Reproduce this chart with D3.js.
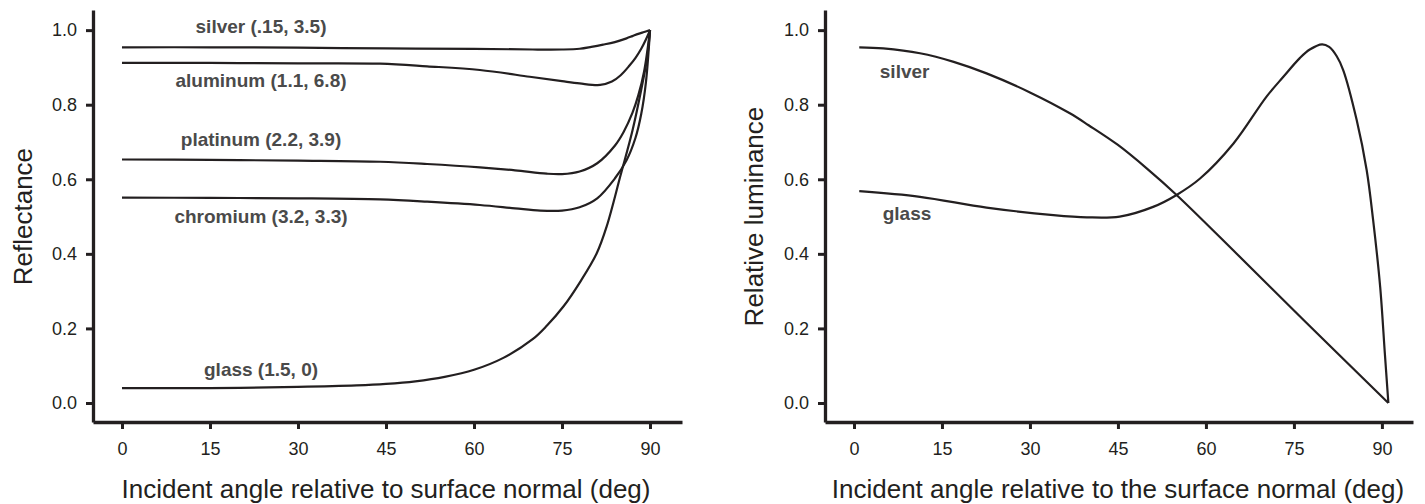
<!DOCTYPE html>
<html>
<head>
<meta charset="utf-8">
<script src="https://cdn.jsdelivr.net/npm/d3@7"></script>
<style>
  body { margin: 0; background: #fff; }
  text { font-family: "Liberation Sans", Arial, Helvetica, sans-serif; fill: #231f20; }
  .axis-title { font-size: 26px; }
  .curve-label { font-size: 19px; font-weight: bold; fill: #4a4a4a; }
</style>
</head>
<body>
<svg id="chart" width="1425" height="504"></svg>
<script>
// ---- data ----
// left panel: reflectance vs incident angle
var angleSilver = [0, 15, 30, 45, 60, 70, 75, 78, 80, 82, 84, 86, 87, 88, 89, 90];
var reflSilver  = [0.954, 0.954, 0.953, 0.951, 0.950, 0.948, 0.948, 0.950, 0.955, 0.961, 0.968, 0.978, 0.984, 0.990, 0.995, 1.0];

var angleAluminum = [0, 15, 30, 44, 52, 61, 69.5, 75, 78, 81.5, 83.5, 85, 86.5, 87.5, 88.5, 89.3, 90];
var reflAluminum  = [0.912, 0.912, 0.911, 0.910, 0.903, 0.893, 0.875, 0.863, 0.857, 0.853, 0.862, 0.879, 0.905, 0.925, 0.950, 0.975, 1.0];

var anglePlatinum = [0, 15, 30, 44, 52, 61, 67, 72.4, 75, 78, 81, 84, 85.5, 87, 88, 89, 90];
var reflPlatinum  = [0.653, 0.652, 0.650, 0.647, 0.641, 0.632, 0.624, 0.615, 0.614, 0.621, 0.643, 0.690, 0.727, 0.778, 0.825, 0.890, 1.0];

var angleChromium = [0, 15, 30, 44, 52, 61, 67, 71.3, 75, 78, 81, 84, 86, 87.5, 88.5, 89.3, 90];
var reflChromium  = [0.551, 0.550, 0.549, 0.546, 0.540, 0.531, 0.522, 0.516, 0.516, 0.525, 0.549, 0.602, 0.651, 0.710, 0.775, 0.860, 1.0];

var angleGlass = [0, 15, 30, 40, 45, 50, 55, 60, 65, 70, 72.4, 75.3, 78.1, 80.9, 82.6, 85, 87, 88.5, 89.5, 90];
var reflGlass  = [0.040, 0.040, 0.043, 0.047, 0.051, 0.058, 0.070, 0.089, 0.121, 0.171, 0.207, 0.260, 0.325, 0.401, 0.473, 0.612, 0.730, 0.840, 0.925, 1.0];

var leftLabels = ["silver (.15, 3.5)", "aluminum (1.1, 6.8)", "platinum (2.2, 3.9)", "chromium (3.2, 3.3)", "glass (1.5, 0)"];

// right panel: relative luminance vs incident angle
var angleLumSilver = [0.9, 5, 11.25, 17, 22.6, 30, 36.8, 40, 45, 50, 55, 65.2, 76.6, 91.1];
var lumSilver      = [0.954, 0.951, 0.938, 0.915, 0.884, 0.833, 0.777, 0.745, 0.692, 0.628, 0.558, 0.401, 0.223, 0.0];

var angleLumGlass = [0.9, 11.25, 22.6, 34, 39.7, 45.3, 51, 55, 59, 64.7, 70.3, 73.2, 76, 77.7, 79.8, 81, 82.3, 83.4, 85.7, 87.4, 88.5, 89.7, 90.5, 91.1];
var lumGlass      = [0.568, 0.553, 0.524, 0.504, 0.498, 0.500, 0.526, 0.558, 0.602, 0.696, 0.821, 0.875, 0.925, 0.948, 0.962, 0.955, 0.930, 0.893, 0.759, 0.625, 0.491, 0.312, 0.133, 0.0];

var rightLabels = ["silver", "glass"];

var xTicks = [0, 15, 30, 45, 60, 75, 90];
var yTicks = [0.0, 0.2, 0.4, 0.6, 0.8, 1.0];

// ---- drawing ----
var svg = d3.select("#chart");
var ink = "#231f20";

function drawPanel(opts) {
  var x = d3.scaleLinear().domain([-4.94, opts.xMax]).range([opts.left, opts.right]);
  var y = d3.scaleLinear().domain([-0.051, 1.054]).range([422, 10]);

  var g = svg.append("g");

  var xAxis = g.append("g")
    .attr("transform", "translate(0,422)")
    .call(d3.axisBottom(x).tickValues(xTicks).tickSize(7).tickSizeOuter(0).tickPadding(13));
  var yAxis = g.append("g")
    .attr("transform", `translate(${opts.left},0)`)
    .call(d3.axisLeft(y).tickValues(yTicks).tickFormat(d3.format(".1f")).tickSize(7).tickSizeOuter(0).tickPadding(9));

  [xAxis, yAxis].forEach(function(a) {
    a.select(".domain").attr("stroke", ink).attr("stroke-width", 3.3);
    a.selectAll(".tick line").attr("stroke", ink).attr("stroke-width", 3);
    a.selectAll(".tick text").attr("fill", ink).style("font-size", "18px");
    a.attr("font-family", null).attr("font-size", null);
  });

  // smooth curve through the read points
  var line = d3.line()
    .x(d => x(d[0]))
    .y(d => y(d[1]))
    .curve(d3.curveCatmullRom.alpha(0.5));

  opts.series.forEach(function(s) {
    var pts = d3.zip(s[0], s[1]);
    g.append("path")
      .attr("d", line(pts))
      .attr("fill", "none")
      .attr("stroke", ink)
      .attr("stroke-width", 2.2)
      .attr("stroke-linejoin", "round");
  });

  opts.labels.forEach(function(l) {
    g.append("text")
      .attr("class", "curve-label")
      .attr("x", x(l.a))
      .attr("y", l.yPx)
      .attr("text-anchor", l.anchor)
      .text(l.text);
  });

  g.append("text")
    .attr("class", "axis-title")
    .attr("x", x(45))
    .attr("y", 498)
    .attr("text-anchor", "middle")
    .text(opts.xTitle);

  g.append("text")
    .attr("class", "axis-title")
    .attr("transform", `translate(${opts.yTitleX},${y(0.5)}) rotate(-90)`)
    .attr("text-anchor", "middle")
    .text(opts.yTitle);
}

drawPanel({
  left: 93, right: 682, xMax: 95.45,
  series: [[angleSilver, reflSilver], [angleAluminum, reflAluminum], [anglePlatinum, reflPlatinum],
           [angleChromium, reflChromium], [angleGlass, reflGlass]],
  labels: [
    {text: leftLabels[0], a: 23.7, yPx: 33, anchor: "middle"},
    {text: leftLabels[1], a: 23.7, yPx: 87, anchor: "middle"},
    {text: leftLabels[2], a: 23.7, yPx: 146, anchor: "middle"},
    {text: leftLabels[3], a: 23.7, yPx: 223, anchor: "middle"},
    {text: leftLabels[4], a: 23.7, yPx: 376, anchor: "middle"}
  ],
  xTitle: "Incident angle relative to surface normal (deg)",
  yTitle: "Reflectance",
  yTitleX: 32
});

drawPanel({
  left: 825, right: 1413, xMax: 95.3,
  series: [[angleLumSilver, lumSilver], [angleLumGlass, lumGlass]],
  labels: [
    {text: rightLabels[0], a: 4.4, yPx: 78, anchor: "start"},
    {text: rightLabels[1], a: 4.9, yPx: 220, anchor: "start"}
  ],
  xTitle: "Incident angle relative to the surface normal (deg)",
  yTitle: "Relative luminance",
  yTitleX: 763
});
</script>
</body>
</html>
